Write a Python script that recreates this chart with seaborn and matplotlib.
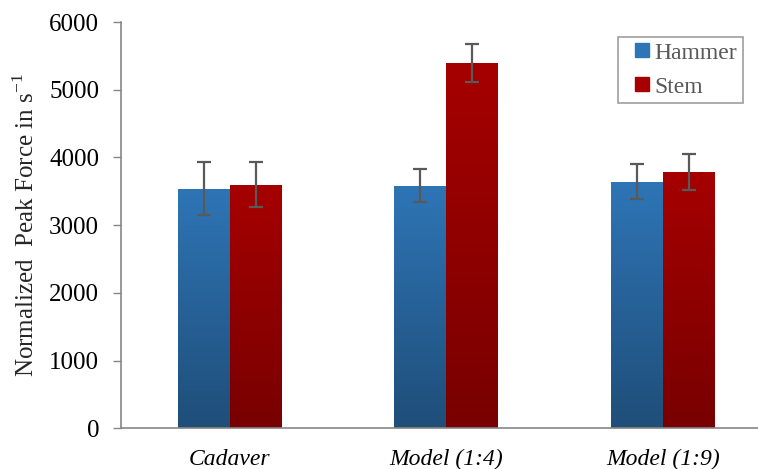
import numpy as np
import pandas as pd
import seaborn as sns
from matplotlib import pyplot as plt
from matplotlib.colors import LinearSegmentedColormap
from matplotlib.legend_handler import HandlerPatch

categories = ["Cadaver", "Model (1:4)", "Model (1:9)"]
series = ["Hammer", "Stem"]
hammer = [3540, 3585, 3640]
hammer_err = [395, 250, 256]
stem = [3600, 5394, 3783]
stem_err = [337, 280, 270]
yticks = [0, 1000, 2000, 3000, 4000, 5000, 6000]


def square_right(legend, orig_handle, xdescent, ydescent, width, height, fontsize):
    # small square sitting at the right end of the handle box
    return plt.Rectangle((width - height - xdescent, -ydescent), height, height)


def main():
    df = pd.DataFrame({
        "cat": categories * 2,
        "series": [series[0]] * 3 + [series[1]] * 3,
        "value": hammer + stem,
        "err": hammer_err + stem_err,
    })

    sns.set_theme(style="white")
    plt.rcParams["font.family"] = ["Liberation Serif", "DejaVu Serif"]

    top_cols = {"Hammer": "#2E75B6", "Stem": "#A60000"}
    bot_cols = {"Hammer": "#1F4E79", "Stem": "#780000"}

    fig = plt.figure(figsize=(7.58, 4.69), dpi=100)
    ax = fig.add_axes([0.16, 0.087, 0.84, 0.866])
    sns.barplot(data=df, x="cat", y="value", hue="series", hue_order=series,
                order=categories, palette=top_cols, width=0.48, errorbar=None,
                saturation=1, ax=ax, legend=False)

    # gradient fill + error bars on each bar
    bars = ax.patches
    for i, p in enumerate(bars[:6]):
        s = series[i // 3]
        row = df[(df["series"] == s) & (df["cat"] == categories[i % 3])].iloc[0]
        x0, y0 = p.get_x(), p.get_y()
        w, h = p.get_width(), p.get_height()
        cmap = LinearSegmentedColormap.from_list(s, [bot_cols[s], top_cols[s]])
        grad = np.linspace(1, 0, 256).reshape(-1, 1)
        im = ax.imshow(grad, extent=[x0, x0 + w, y0, y0 + h], aspect="auto",
                       cmap=cmap, zorder=p.get_zorder() + 0.1)
        im.set_clip_path(p)
        ax.errorbar(x0 + w / 2, row["value"], yerr=row["err"], fmt="none",
                    ecolor="#595959", elinewidth=1.6, capsize=5, capthick=1.6,
                    zorder=5)

    ax.set_xlim(-0.5, 2.44)
    ax.set_ylim(0, 6000)
    ax.set_yticks(yticks)
    ax.tick_params(axis="y", which="both", left=True, length=6, width=1,
                   color="#868686", labelsize=18, pad=10, labelcolor="black")
    ax.tick_params(axis="x", bottom=False, labelsize=17, pad=9,
                   labelcolor="black")
    for lab in ax.get_xticklabels():
        lab.set_fontstyle("italic")
    for side in ["top", "right"]:
        ax.spines[side].set_visible(False)
    for side in ["left", "bottom"]:
        ax.spines[side].set_color("#868686")
        ax.spines[side].set_linewidth(1.2)

    ax.set_xlabel("")
    ax.set_ylabel("Normalized  Peak Force in s$^{\\mathregular{-1}}$",
                  fontsize=18, labelpad=7)

    handles = [plt.Rectangle((0, 0), 1, 1, color=top_cols[s]) for s in series]
    leg = ax.legend(handles, series, loc="upper right",
                    bbox_to_anchor=(0.9765, 0.964), fontsize=17,
                    handlelength=1.06, handleheight=0.5, handletextpad=0.25,
                    labelspacing=0.55, borderpad=0.25, borderaxespad=0,
                    fancybox=False, frameon=True, edgecolor="#868686",
                    handler_map={plt.Rectangle: HandlerPatch(patch_func=square_right)})
    leg.get_frame().set_linewidth(1.2)
    for t in leg.get_texts():
        t.set_color("#595959")

    fig.savefig("out.png", dpi=100)


if __name__ == "__main__":
    main()
